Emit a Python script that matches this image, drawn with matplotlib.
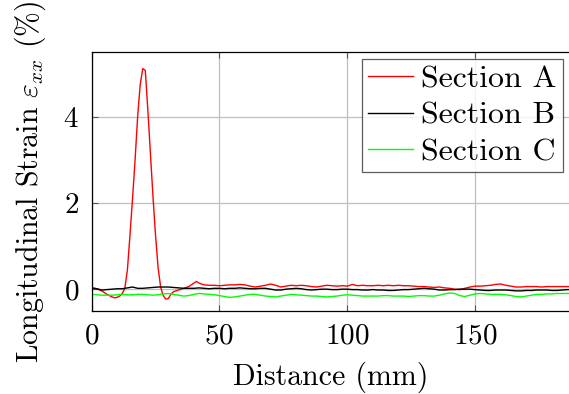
import matplotlib
matplotlib.use("Agg")
import matplotlib.pyplot as plt
import numpy as np

RED, BLACK, GREEN, GRID = "#FF0000", "#000000", "#00FF00", "#BFBFBF"

# Section A is sampled more densely around the strain peak
dist_a = [0, 2, 4, 6, 8, 9, 10, 11, 12, 13, 14, 15, 16, 17, 18, 19, 20, 21, 22, 23,
          24, 25, 26, 27, 28, 29, 30, 31, 32, 34, 36, 38, 40, 41, 42, 44, 46, 48, 50,
          52, 54, 56, 58, 60, 62, 64, 66, 68, 70, 72, 74, 76, 78, 80, 82, 84, 86, 88,
          90, 92, 94, 96, 98, 100, 102, 104, 106, 108, 110, 112, 114, 116, 118, 120,
          122, 124, 126, 128, 130, 132, 134, 136, 138, 140, 142, 144, 146, 148, 150,
          152, 154, 156, 158, 160, 162, 164, 166, 168, 170, 172, 174, 176, 178, 180,
          182, 184, 186, 188]
strain_a = [0.03, 0.01, -0.04, -0.12, -0.18, -0.20, -0.19, -0.16, -0.10, 0.02, 0.45,
            1.25, 2.10, 3.00, 4.00, 4.75, 5.12, 5.08, 4.15, 3.15, 2.15, 1.25, 0.50,
            0.05, -0.15, -0.23, -0.22, -0.12, -0.06, -0.02, 0.02, 0.06, 0.14, 0.18,
            0.14, 0.10, 0.09, 0.09, 0.08, 0.09, 0.10, 0.10, 0.11, 0.10, 0.07, 0.05,
            0.07, 0.09, 0.12, 0.09, 0.05, 0.07, 0.09, 0.08, 0.09, 0.08, 0.06, 0.05,
            0.07, 0.09, 0.08, 0.07, 0.08, 0.07, 0.11, 0.08, 0.09, 0.08, 0.08, 0.09,
            0.08, 0.09, 0.08, 0.09, 0.08, 0.08, 0.07, 0.06, 0.06, 0.05, 0.04, 0.05,
            0.03, 0.02, 0.00, -0.01, 0.02, 0.05, 0.07, 0.07, 0.08, 0.09, 0.11, 0.12,
            0.09, 0.07, 0.05, 0.05, 0.06, 0.06, 0.06, 0.05, 0.06, 0.06, 0.06, 0.06,
            0.06, 0.06]

dist_bc = np.arange(0, 189, 2)
strain_b = [0.03, 0.01, -0.02, -0.01, 0.00, 0.01, 0.01, 0.03, 0.05, 0.02, 0.02, 0.03,
            0.04, 0.05, 0.05, 0.05, 0.04, 0.03, 0.02, 0.02, 0.02, 0.03, 0.02, 0.01,
            0.02, 0.02, 0.01, 0.02, 0.02, 0.03, 0.02, 0.01, 0.01, 0.02, 0.02, 0.00,
            -0.02, -0.02, 0.00, 0.01, 0.02, 0.01, -0.01, -0.02, -0.01, 0.00, 0.00,
            -0.01, -0.01, 0.00, 0.00, -0.01, -0.01, -0.02, -0.02, -0.01, -0.02, -0.02,
            -0.03, -0.03, -0.02, -0.01, -0.01, 0.00, 0.01, 0.02, 0.01, 0.00, -0.02,
            -0.02, -0.01, -0.01, 0.00, 0.00, 0.00, -0.01, -0.02, -0.03, -0.03, -0.02,
            -0.02, -0.02, -0.03, -0.04, -0.04, -0.03, -0.03, -0.02, -0.02, -0.02,
            -0.03, -0.03, -0.02, -0.01, -0.01]
strain_c = [-0.12, -0.13, -0.14, -0.14, -0.14, -0.13, -0.12, -0.13, -0.13, -0.12,
            -0.12, -0.13, -0.14, -0.13, -0.11, -0.10, -0.12, -0.14, -0.16, -0.15,
            -0.12, -0.10, -0.11, -0.12, -0.13, -0.15, -0.17, -0.19, -0.18, -0.16,
            -0.14, -0.12, -0.12, -0.14, -0.16, -0.17, -0.18, -0.16, -0.14, -0.12,
            -0.13, -0.14, -0.15, -0.16, -0.16, -0.17, -0.18, -0.17, -0.16, -0.14,
            -0.13, -0.14, -0.15, -0.16, -0.16, -0.16, -0.16, -0.15, -0.15, -0.16,
            -0.16, -0.16, -0.17, -0.16, -0.15, -0.15, -0.16, -0.16, -0.14, -0.11,
            -0.09, -0.10, -0.15, -0.17, -0.14, -0.11, -0.10, -0.11, -0.12, -0.12,
            -0.12, -0.13, -0.15, -0.17, -0.18, -0.16, -0.14, -0.12, -0.12, -0.11,
            -0.11, -0.10, -0.10, -0.10, -0.10]

plt.rcParams["font.family"] = ["cmr10", "DejaVu Serif"]
plt.rcParams["mathtext.fontset"] = "cm"
plt.rcParams["axes.formatter.use_mathtext"] = True

fig = plt.figure(figsize=(5.69, 3.94), dpi=100)
ax = fig.add_axes([0.161, 0.2114, 0.839, 0.656])

ax.plot(dist_a, strain_a, color=RED, lw=1.0, label="Section A")
ax.plot(dist_bc, strain_b, color=BLACK, lw=1.0, label="Section B")
ax.plot(dist_bc, strain_c, color=GREEN, lw=1.0, label="Section C")

ax.set_xlim(0, 186.7)
ax.set_ylim(-0.5, 5.5)
ax.set_xticks([0, 50, 100, 150])
ax.set_yticks([0, 2, 4])
ax.grid(True, color=GRID, lw=0.9)
ax.set_axisbelow(True)
ax.tick_params(direction="in", length=4, width=0.8, top=True, right=False,
               labelsize=21, color="#555555", pad=9)
ax.spines["right"].set_visible(False)
for s in ("left", "bottom", "top"):
    ax.spines[s].set_linewidth(0.9)

ax.set_xlabel("Distance (mm)", fontsize=21.5, labelpad=9)
ax.set_ylabel(r"Longitudinal Strain $\varepsilon_{xx}$ (%)", fontsize=21.5, labelpad=11)

leg = ax.legend(loc="upper right", fontsize=23, frameon=True, fancybox=False,
                edgecolor="#333333", handlelength=1.4, handletextpad=0.25,
                borderpad=0.2, labelspacing=0.25, borderaxespad=0.2)
leg.get_frame().set_linewidth(0.9)

fig.savefig("out.png", dpi=100, facecolor="white")
